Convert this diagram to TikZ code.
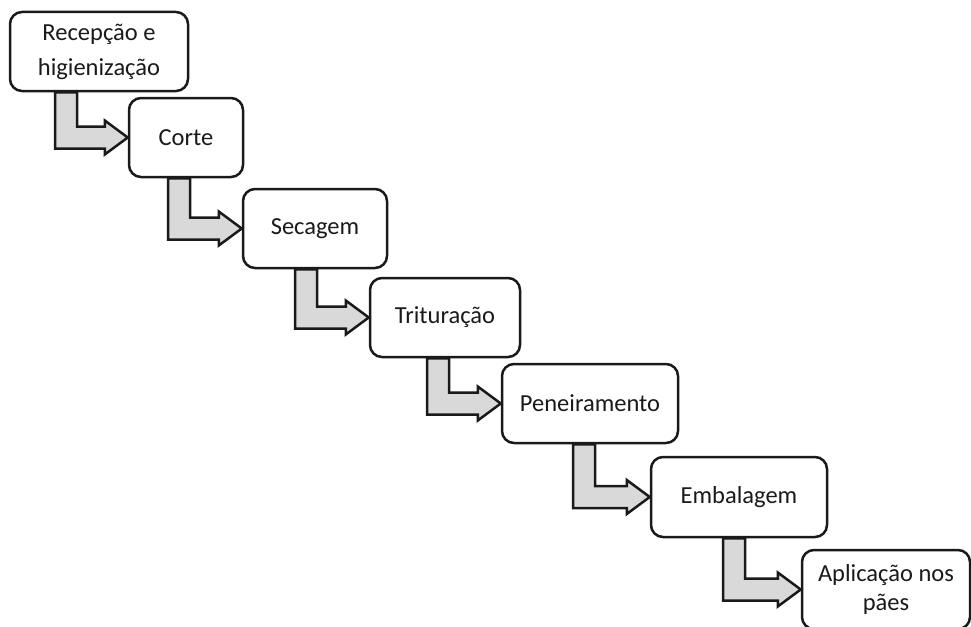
\documentclass[tikz,border=0pt]{standalone}
\usepackage{fontspec}
\setmainfont{Carlito}
\usetikzlibrary{calc}
\definecolor{arrowgray}{HTML}{D9D9D9}
\definecolor{inkc}{HTML}{1A1A1A}
\tikzset{
  stepbox/.style={draw=inkc, line width=2.5pt, rounded corners=12pt, fill=white,
    inner sep=0pt, align=center, text=inkc, font=\fontsize{24.5}{29}\selectfont},
  flowarrow/.style={draw=inkc, fill=arrowgray, line width=2.5pt, line join=miter},
}
\newcommand\bentarrow[3]{%
  \draw[flowarrow] let \p1=(#1.south), \p2=(#2.west) in
    (#3pt,\y1) -- (#3pt,\y2-11pt) -- (\x2-23pt,\y2-11pt) -- (\x2-23pt,\y2-17pt)
    -- (\x2,\y2) -- (\x2-23pt,\y2+17pt) -- (\x2-23pt,\y2+11pt)
    -- (#3pt+22pt,\y2+11pt) -- (#3pt+22pt,\y1) -- cycle;}
\begin{document}
\begin{tikzpicture}[x=1pt,y=-1pt]
\useasboundingbox (0,0) rectangle (971,626);
\clip (0,0) rectangle (971,626);
\node[stepbox, minimum width=178pt, minimum height=79pt, font=\fontsize{24.5}{35}\selectfont] (a) at (99,51.5) {Recepção e\\higienização};
\node[stepbox, minimum width=114pt, minimum height=79pt] (b) at (186,137.5) {Corte};
\node[stepbox, minimum width=144pt, minimum height=79pt] (c) at (315,228.5) {Secagem};
\node[stepbox, minimum width=150pt, minimum height=79pt] (d) at (445,317.5) {Trituração};
\node[stepbox, minimum width=176pt, minimum height=79pt] (e) at (590,403.5) {Peneiramento};
\node[stepbox, minimum width=176pt, minimum height=80pt] (f) at (739,497) {Embalagem};
\node[stepbox, minimum width=168pt, minimum height=79pt] (g) at (886,589.5) {Aplicação nos\\pães};
\bentarrow{a}{b}{55}
\bentarrow{b}{c}{168}
\bentarrow{c}{d}{295}
\bentarrow{d}{e}{427}
\bentarrow{e}{f}{573}
\bentarrow{f}{g}{723}
\end{tikzpicture}
\end{document}
